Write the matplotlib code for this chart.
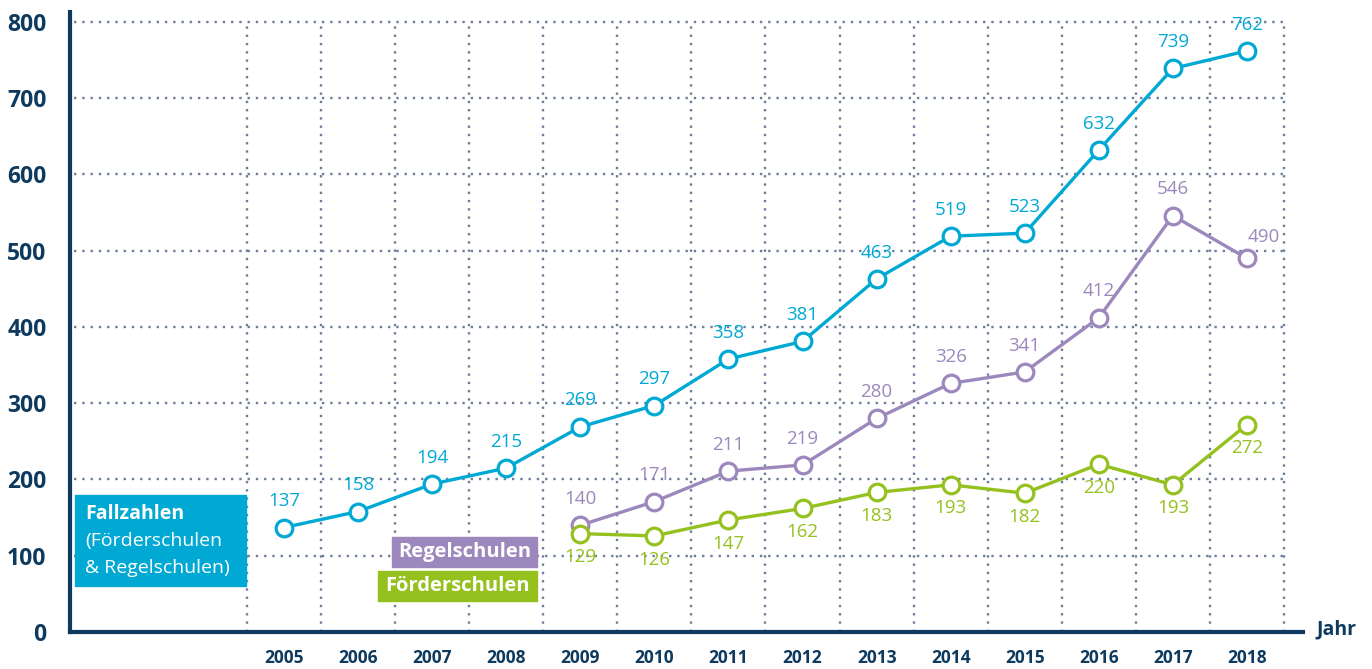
import numpy as np
import matplotlib.pyplot as plt
from matplotlib.patches import Rectangle

# data
years = list(range(2005, 2019))
fallzahlen = [137, 158, 194, 215, 269, 297, 358, 381, 463, 519, 523, 632, 739, 762]
years_sub = list(range(2009, 2019))
regelschulen = [140, 171, 211, 219, 280, 326, 341, 412, 546, 490]
foerderschulen = [129, 126, 147, 162, 183, 193, 182, 220, 193, 272]
y_ticks = [0, 100, 200, 300, 400, 500, 600, 700, 800]

BLUE = '#00a9d4'
PURPLE = '#9c88bc'
GREEN = '#95c11f'
NAVY = '#0d3a5e'
GRID = '#6e7d9c'

plt.rcParams['font.family'] = ['Open Sans', 'DejaVu Sans']

W, H = 1372, 669
fig = plt.figure(figsize=(W / 100, H / 100), dpi=100)


def fx(px):
    return px / W


def fy(py):
    return 1 - py / H


ax = fig.add_axes([fx(70), fy(632), fx(1303) - fx(70), fy(12) - fy(632)])
ax.set_xlim(2002.11, 2018.757)
ax.set_ylim(0, 813)

for s in ['top', 'right']:
    ax.spines[s].set_visible(False)
for s in ['left', 'bottom']:
    ax.spines[s].set_color(NAVY)
    ax.spines[s].set_linewidth(3)

# dotted grid
dot = dict(color=GRID, linewidth=1.7, linestyle=(0, (1, 2.5)), zorder=1)
for yv in y_ticks[1:]:
    ax.plot([2002.17, 2018.5], [yv, yv], **dot)
for xv in np.arange(2004.5, 2019, 1):
    ax.plot([xv, xv], [0, 800], **dot)

ax.set_yticks(y_ticks)
ax.set_yticklabels([str(v) for v in y_ticks], fontsize=16.5, fontweight='bold', color=NAVY)
ax.set_xticks(years)
ax.set_xticklabels([str(y) for y in years], fontsize=12.5, fontweight='bold', color=NAVY)
ax.tick_params(axis='y', length=0, pad=17)
ax.tick_params(axis='x', length=0, pad=12)

mk = dict(marker='o', markersize=12, markerfacecolor='white', markeredgewidth=2.3,
          linewidth=2.4, zorder=3)
ax.plot(years, fallzahlen, color=BLUE, **mk)
ax.plot(years_sub, regelschulen, color=PURPLE, **mk)
ax.plot(years_sub, foerderschulen, color=GREEN, **mk)

lbl = dict(ha='center', va='center', fontsize=13.5, zorder=4)
for x, v in zip(years, fallzahlen):
    ax.annotate(str(v), (x, v), xytext=(0, 19), textcoords='offset points', color=BLUE, **lbl)
for x, v in zip(years_sub, regelschulen):
    off = (12, 15) if x == 2018 else (0, 19)
    ax.annotate(str(v), (x, v), xytext=off, textcoords='offset points', color=PURPLE, **lbl)
for x, v in zip(years_sub, foerderschulen):
    ax.annotate(str(v), (x, v), xytext=(0, -17), textcoords='offset points', color=GREEN, **lbl)

# legend boxes
fig.patches.append(Rectangle((fx(75), fy(586)), fx(246) - fx(75), fy(495) - fy(586),
                             transform=fig.transFigure, color=BLUE, zorder=5))
fig.text(fx(85), fy(514), 'Fallzahlen', fontsize=14, fontweight='bold', color='white',
         va='center', zorder=6)
fig.text(fx(85), fy(541), '(Förderschulen', fontsize=14, color='white', va='center', zorder=6)
fig.text(fx(85), fy(568), '& Regelschulen)', fontsize=14, color='white', va='center', zorder=6)

fig.patches.append(Rectangle((fx(392), fy(567)), fx(537) - fx(392), fy(537) - fy(567),
                             transform=fig.transFigure, color=PURPLE, zorder=5))
fig.text(fx(465), fy(552), 'Regelschulen', fontsize=14.5, fontweight='bold', color='white',
         ha='center', va='center', zorder=6)
fig.patches.append(Rectangle((fx(378), fy(601)), fx(537) - fx(378), fy(571) - fy(601),
                             transform=fig.transFigure, color=GREEN, zorder=5))
fig.text(fx(458), fy(586), 'Förderschulen', fontsize=14.5, fontweight='bold', color='white',
         ha='center', va='center', zorder=6)

fig.text(fx(1316), fy(629), 'Jahr', fontsize=14, fontweight='bold', color=NAVY, va='center')

fig.savefig('out.png', dpi=100)
